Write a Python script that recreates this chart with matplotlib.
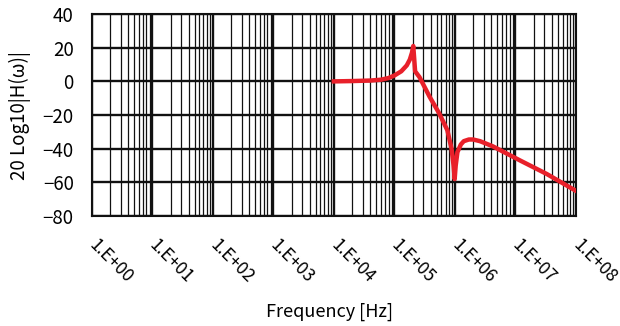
import matplotlib.pyplot as plt
from matplotlib.ticker import LogLocator, NullFormatter

plt.rcParams['font.family'] = ['Noto Sans CJK JP', 'DejaVu Sans']

# frequency [Hz] and gain [dB]
freq = [1.0e4, 2.0e4, 4.0e4, 6.0e4, 8.0e4, 1.0e5, 1.3e5, 1.6e5, 1.8e5, 1.95e5, 2.05e5,
        2.2e5, 2.6e5, 3.8e5, 5.5e5, 7.5e5, 8.8e5, 9.5e5, 9.9e5, 1.03e6, 1.1e6, 1.25e6,
        1.4e6, 1.7e6, 2.0e6, 2.6e6, 4.2e6, 1.2e7, 3.3e7, 1.0e8]
gain = [0.0, 0.2, 0.5, 1.0, 2.0, 3.5, 6.0, 9.5, 13.0, 17.0, 21.0,
        6.0, 2.5, -9.0, -19.0, -29.0, -40.0, -50.0, -58.0, -50.0, -42.0, -37.5,
        -35.5, -34.5, -34.5, -35.5, -38.5, -47.0, -55.0, -65.0]

xticks = [1e0, 1e1, 1e2, 1e3, 1e4, 1e5, 1e6, 1e7, 1e8]
xlabels = ["1.E+00", "1.E+01", "1.E+02", "1.E+03", "1.E+04",
           "1.E+05", "1.E+06", "1.E+07", "1.E+08"]
yticks = [40, 20, 0, -20, -40, -60, -80]

fig = plt.figure(figsize=(6.2, 3.26), dpi=100)
ax = fig.add_axes([0.148, 0.337, 0.781, 0.62])

ax.plot(freq, gain, color="#e8202a", lw=3.2, solid_joinstyle="round", zorder=5)

ax.set_xscale("log")
ax.set_xlim(1e0, 1e8)
ax.set_ylim(-80, 40)
ax.set_xticks(xticks)
ax.set_xticklabels(xlabels, rotation=-45, ha="left", va="center",
                   rotation_mode="anchor", fontsize=12.5)
ax.xaxis.set_minor_locator(LogLocator(base=10, subs=range(2, 10), numticks=100))
ax.xaxis.set_minor_formatter(NullFormatter())
ax.set_yticks(yticks)
ax.tick_params(axis="y", labelsize=13.5, length=0, pad=13)
ax.tick_params(axis="x", which="both", length=0, pad=19)

ax.grid(True, which="major", axis="both", color="#111111", lw=1.7)
ax.grid(True, which="minor", axis="x", color="#111111", lw=0.9)
for s in ax.spines.values():
    s.set_color("#111111")
    s.set_linewidth(1.5)

fig.text(0.532, 1 - 312 / 326, "Frequency [Hz]", fontsize=13,
         ha="center", va="center")
ax.set_ylabel("20 Log10|H(ω)|", fontsize=13.5, labelpad=8)

fig.savefig("out.png", dpi=100)
